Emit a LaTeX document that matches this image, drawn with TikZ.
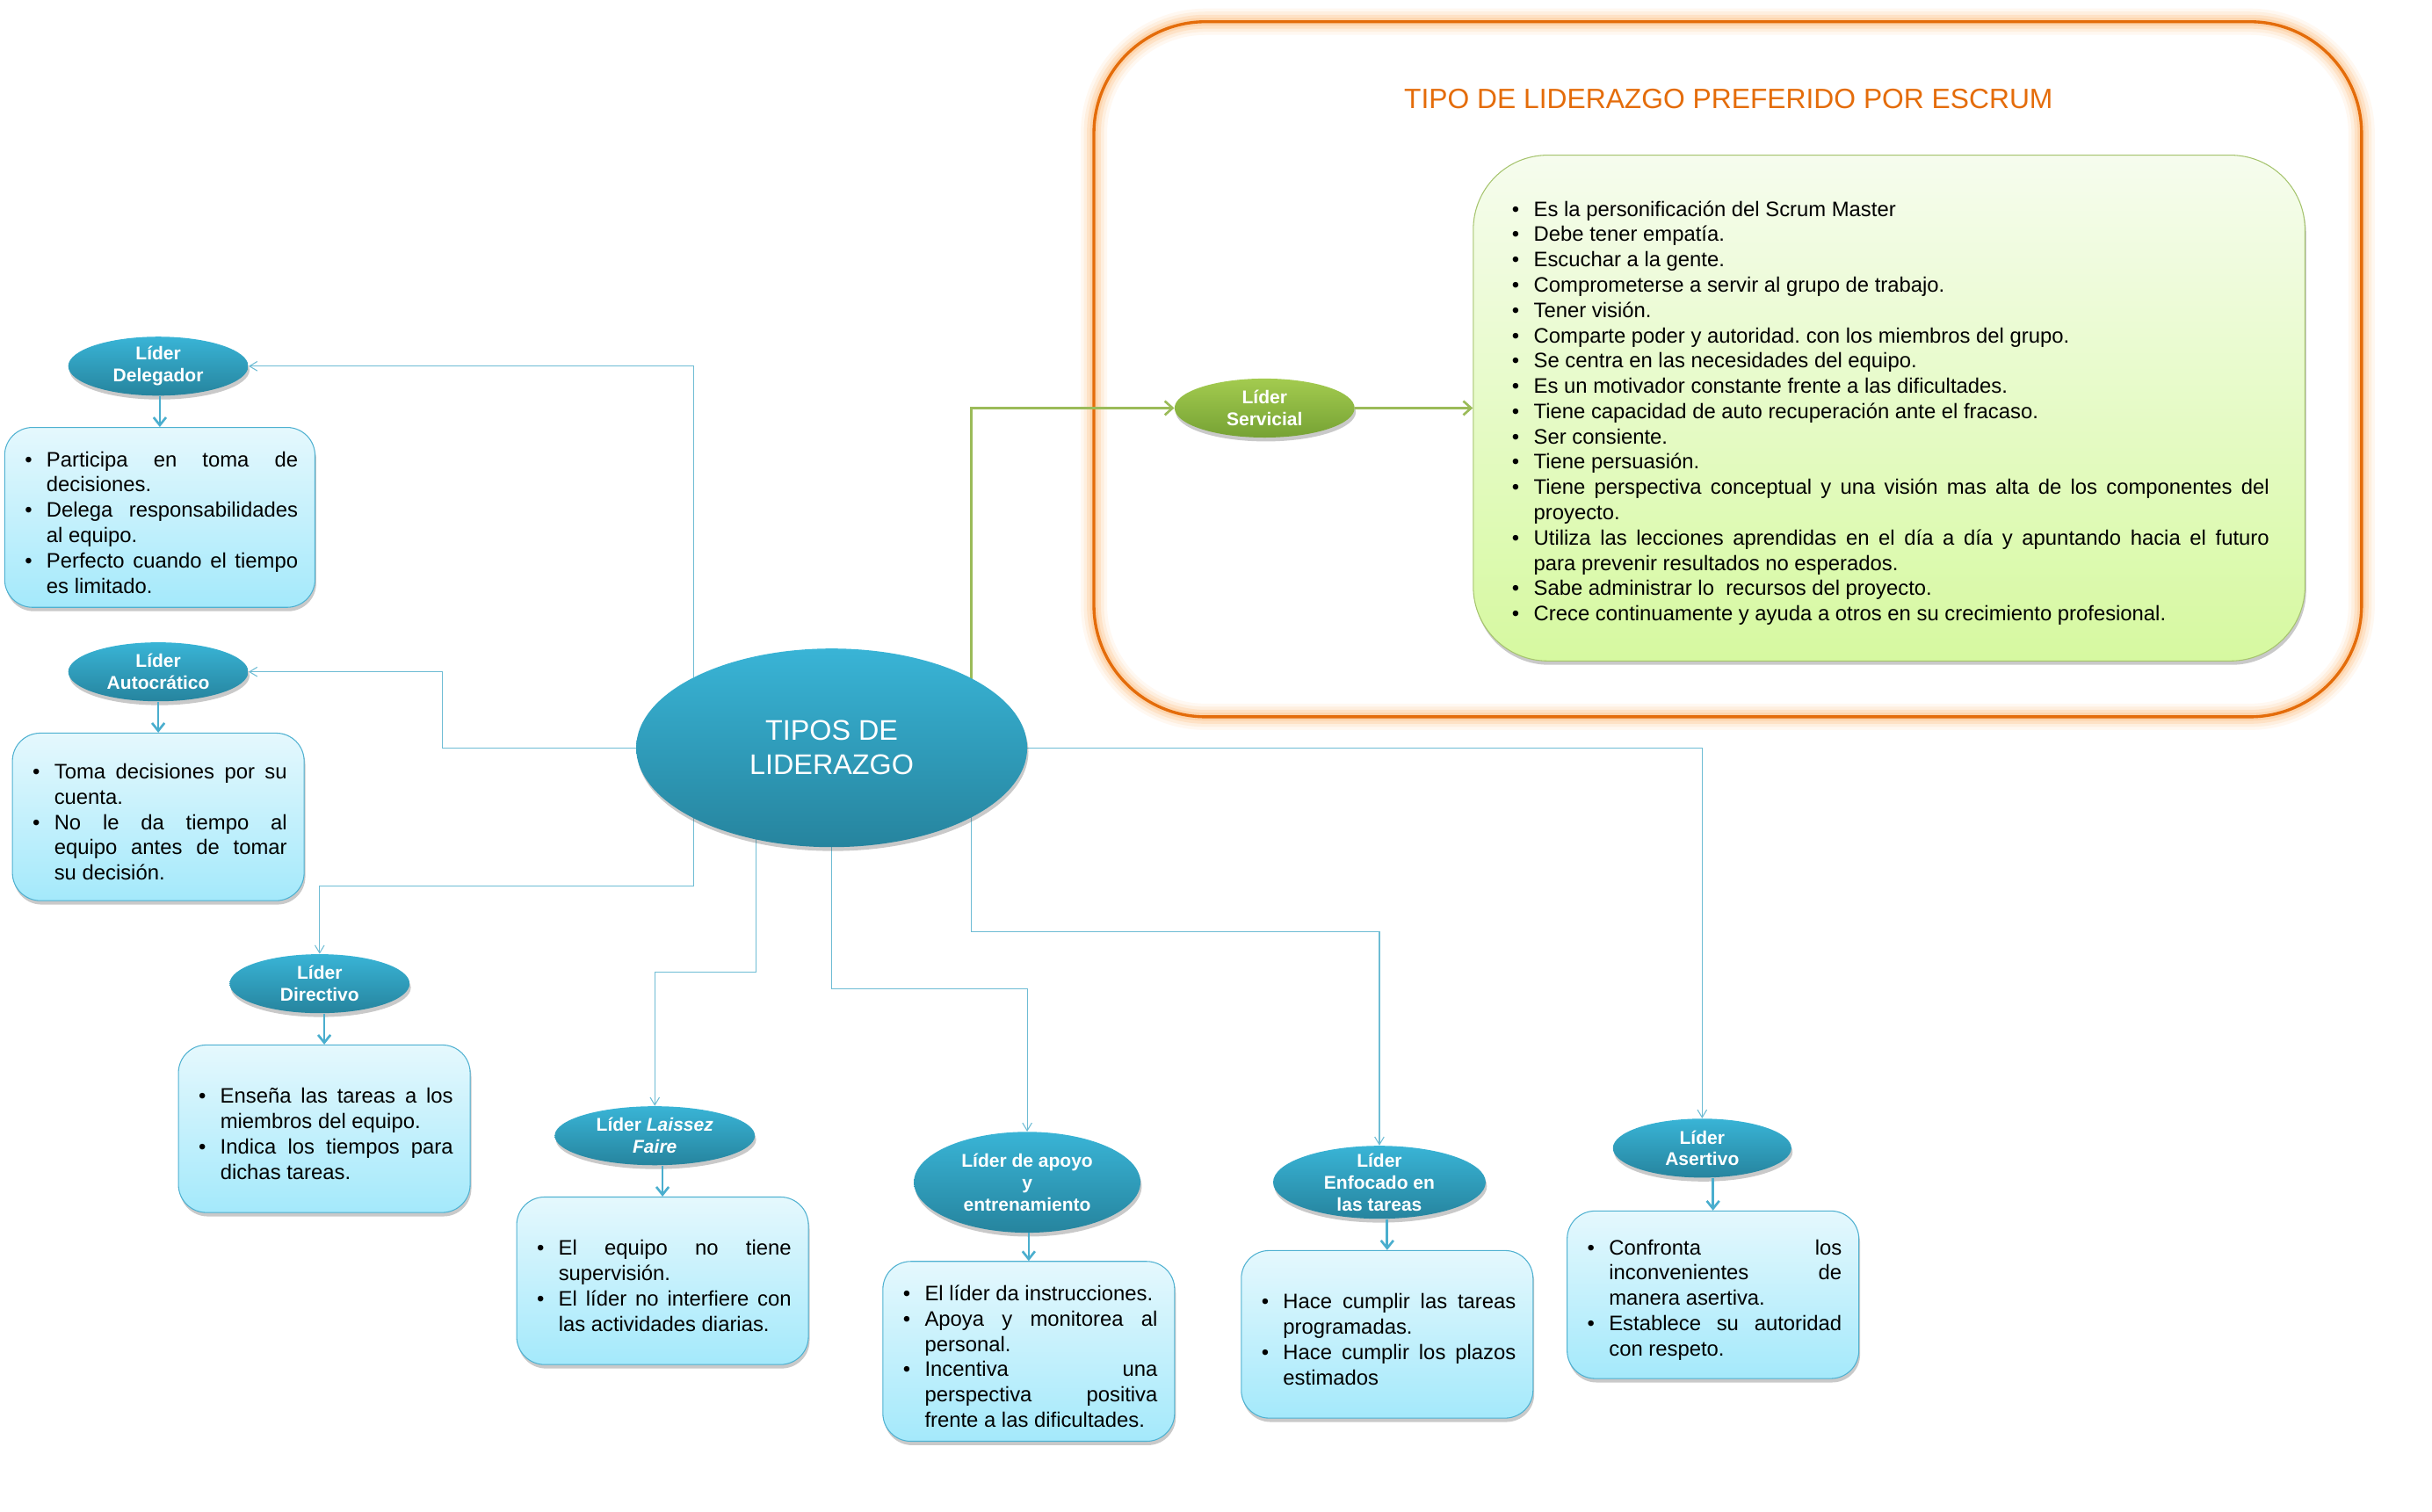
\documentclass[tikz,border=0pt]{standalone}
\usepackage{fontspec}
\setmainfont{Liberation Sans}
\usepackage{tikz}
\usetikzlibrary{positioning}
\usetikzlibrary{shapes.geometric}
\usetikzlibrary{shadows}
\usetikzlibrary{arrows.meta}
\tikzset{>={Straight Barb[length=5pt,width=6pt]}}
\pgfdeclarelayer{back}
\pgfsetlayers{back,main}
\definecolor{lidtop}{RGB}{57,180,214}
\definecolor{lidbot}{RGB}{38,132,158}
\definecolor{boxtop}{RGB}{229,248,253}
\definecolor{boxbot}{RGB}{164,233,251}
\definecolor{boxline}{RGB}{79,177,209}
\definecolor{linkcol}{RGB}{110,188,212}
\definecolor{arrcol}{RGB}{74,174,206}
\definecolor{sertop}{RGB}{163,203,79}
\definecolor{serbot}{RGB}{118,162,52}
\definecolor{grnline}{RGB}{155,187,89}
\definecolor{gbtop}{RGB}{246,252,238}
\definecolor{gbbot}{RGB}{214,249,160}
\definecolor{gbline}{RGB}{166,196,110}
\definecolor{naranja}{RGB}{228,108,10}
\definecolor{glowcol}{RGB}{252,196,140}
\tikzstyle{sombra} = [drop shadow={shadow xshift=0.8pt, shadow yshift=-2.5pt, opacity=0.3, fill=black!70}]
\tikzstyle{lider} = [ellipse, sombra, top color=lidtop, bottom color=lidbot,
    text=white, align=center, inner xsep=0pt, inner ysep=-12pt,
    minimum height=38pt, font=\bfseries\fontsize{11.9}{14}\selectfont]
\tikzstyle{centro} = [lider, minimum width=252pt, minimum height=128pt,
    inner ysep=0pt, font=\fontsize{18.3}{22}\selectfont]
\tikzstyle{servicial} = [lider, top color=sertop, bottom color=serbot]
\tikzstyle{nota} = [rectangle, rounded corners=18pt, sombra, draw=boxline, line width=0.6pt,
    top color=boxtop, bottom color=boxbot, inner xsep=11pt, inner ysep=9pt,
    text width=166pt, align=justify, minimum height=108pt,
    font=\fontsize{13.5}{16.3}\selectfont]
\tikzstyle{notaverde} = [nota, rounded corners=48pt, draw=gbline, top color=gbtop,
    bottom color=gbbot, inner xsep=23pt, text width=490pt, minimum height=326pt]
\tikzstyle{link} = [draw=linkcol, line width=0.6pt, ->]
\tikzstyle{glink} = [draw=grnline, line width=1.5pt, -{Straight Barb[length=5pt,width=9pt]}]
\tikzstyle{flecha} = [draw=arrcol, line width=1.5pt, -{Straight Barb[length=5pt,width=8pt]}]
\tikzstyle{titulo} = [text=naranja, font=\fontsize{18}{22}\selectfont]
\newcommand{\itm}{\par\noindent\hangindent=16pt\hangafter=1\makebox[16pt][l]{\kern2pt\textbullet}}
\hyphenpenalty=10000
\exhyphenpenalty=10000
\tolerance=10000
\hbadness=10000
\frenchspacing

\begin{document}
\begin{tikzpicture}[x=1pt, y=-1pt, node distance=20pt]
    \useasboundingbox (0,0) rectangle (1567.4,974);
    % We start by placing the centre and the leaders around it
    \node [centro] (tipos) at (536,482) {TIPOS DE\\LIDERAZGO};
    \node [lider, minimum width=116pt] (dlg) at (102,236) {Líder\\Delegador};
    \node [lider, minimum width=116pt] (aut) at (102,433) {Líder\\Autocrático};
    \node [lider, minimum width=116pt] (dir) at (206,634) {Líder\\Directivo};
    \node [lider, minimum width=129pt] (lai) at (422,732) {Líder \textit{Laissez}\\\textit{Faire}};
    \node [lider, minimum width=146pt, minimum height=65pt] (apo) at (662,762) {Líder de apoyo\\y\\entrenamiento};
    \node [lider, minimum width=137pt, minimum height=47pt] (enf) at (889,762) {Líder\\Enfocado en\\las tareas};
    \node [lider, minimum width=115pt] (ase) at (1097,740) {Líder\\Asertivo};
    \node [servicial, minimum width=116pt] (ser) at (815,263) {Líder\\Servicial};

    % Each leader gets its note just below
    \node [nota, below=of dlg, xshift=1pt, text width=178pt] (ndlg) {%
        \itm Participa en toma de\linebreak decisiones.
        \itm Delega responsabilidades\linebreak al equipo.
        \itm Perfecto cuando el tiempo\linebreak es limitado.\par};
    \node [nota, below=of aut] (naut) {%
        \itm Toma decisiones por su\linebreak cuenta.
        \itm No le da tiempo al\linebreak equipo antes de tomar\linebreak su decisión.\par};
    \node [nota, below=of dir, xshift=3pt] (ndir) {%
        \itm Enseña las tareas a los\linebreak miembros del equipo.
        \itm Indica los tiempos para\linebreak dichas tareas.\par};
    \node [nota, below=of lai, xshift=5pt] (nlai) {%
        \itm El equipo no tiene\linebreak supervisión.
        \itm El líder no interfiere con\linebreak las actividades diarias.\par};
    \node [nota, below=18pt of apo, xshift=1pt] (napo) {%
        \itm El líder da instrucciones.
        \itm Apoya y monitorea al\linebreak personal.
        \itm Incentiva una\linebreak perspectiva positiva\linebreak frente a las dificultades.\par};
    \node [nota, below=of enf, xshift=5pt] (nenf) {%
        \itm Hace cumplir las tareas\linebreak programadas.
        \itm Hace cumplir los plazos\linebreak estimados\par};
    \node [nota, below=21pt of ase, xshift=7pt] (nase) {%
        \itm Confronta los\linebreak inconvenientes de\linebreak manera asertiva.
        \itm Establece su autoridad\linebreak con respeto.\par};
    \node [notaverde, right=76pt of ser] (nser) {%
        \itm Es la personificación del Scrum Master
        \itm Debe tener empatía.
        \itm Escuchar a la gente.
        \itm Comprometerse a servir al grupo de trabajo.
        \itm Tener visión.
        \itm Comparte poder y autoridad. con los miembros del grupo.
        \itm Se centra en las necesidades del equipo.
        \itm Es un motivador constante frente a las dificultades.
        \itm Tiene capacidad de auto recuperación ante el fracaso.
        \itm Ser consiente.
        \itm Tiene persuasión.
        \itm Tiene perspectiva conceptual y una visión mas alta de los componentes del\linebreak proyecto.
        \itm Utiliza las lecciones aprendidas en el día a día y apuntando hacia el futuro\linebreak para prevenir resultados no esperados.
        \itm Sabe administrar lo\ \ recursos del proyecto.
        \itm Crece continuamente y ayuda a otros en su crecimiento profesional.\par};
    \node [titulo] (ttl) at (1114,64) {TIPO DE LIDERAZGO PREFERIDO POR ESCRUM};

    % The glowing frame and the connectors go behind the nodes
    \begin{pgfonlayer}{back}
        \foreach \w/\o in {17/0.12, 13/0.18, 9/0.3, 5/0.45}
            \draw [draw=glowcol, line width=\w pt, opacity=\o, rounded corners=72pt] (705,14) rectangle (1522,462);
        \draw [draw=naranja, line width=1.9pt, rounded corners=72pt] (705,14) rectangle (1522,462);
        \draw [link] ([xshift=-89pt]tipos.center) |- (dlg.east);
        \draw [link] (tipos.west) -| ([xshift=125pt]aut.east) -- (aut.east);
        \draw [link] ([xshift=-89pt]tipos.center) |- ([yshift=44pt]dir.north) -- (dir.north);
        \draw [link] ([xshift=-49pt]tipos.center) |- ([yshift=86pt]lai.north) -- (lai.north);
        \draw [link] (tipos.center) |- ([yshift=92pt]apo.north) -- (apo.north);
        \draw [link] ([xshift=90pt]tipos.center) |- ([yshift=138pt]enf.north) -- (enf.north);
        \draw [link] (tipos.center) -| (ase.north);
        \draw [glink] ([xshift=90pt]tipos.center) |- (ser.west);
    \end{pgfonlayer}
    \draw [glink] (ser.east) -- (nser.west);

    % Short arrows from each leader to its note
    \foreach \a/\b in {dlg/ndlg, aut/naut, dir/ndir, lai/nlai, apo/napo, enf/nenf, ase/nase}
        \draw [flecha] (\a.south -| \b.north) -- (\b.north);
\end{tikzpicture}
\end{document}
